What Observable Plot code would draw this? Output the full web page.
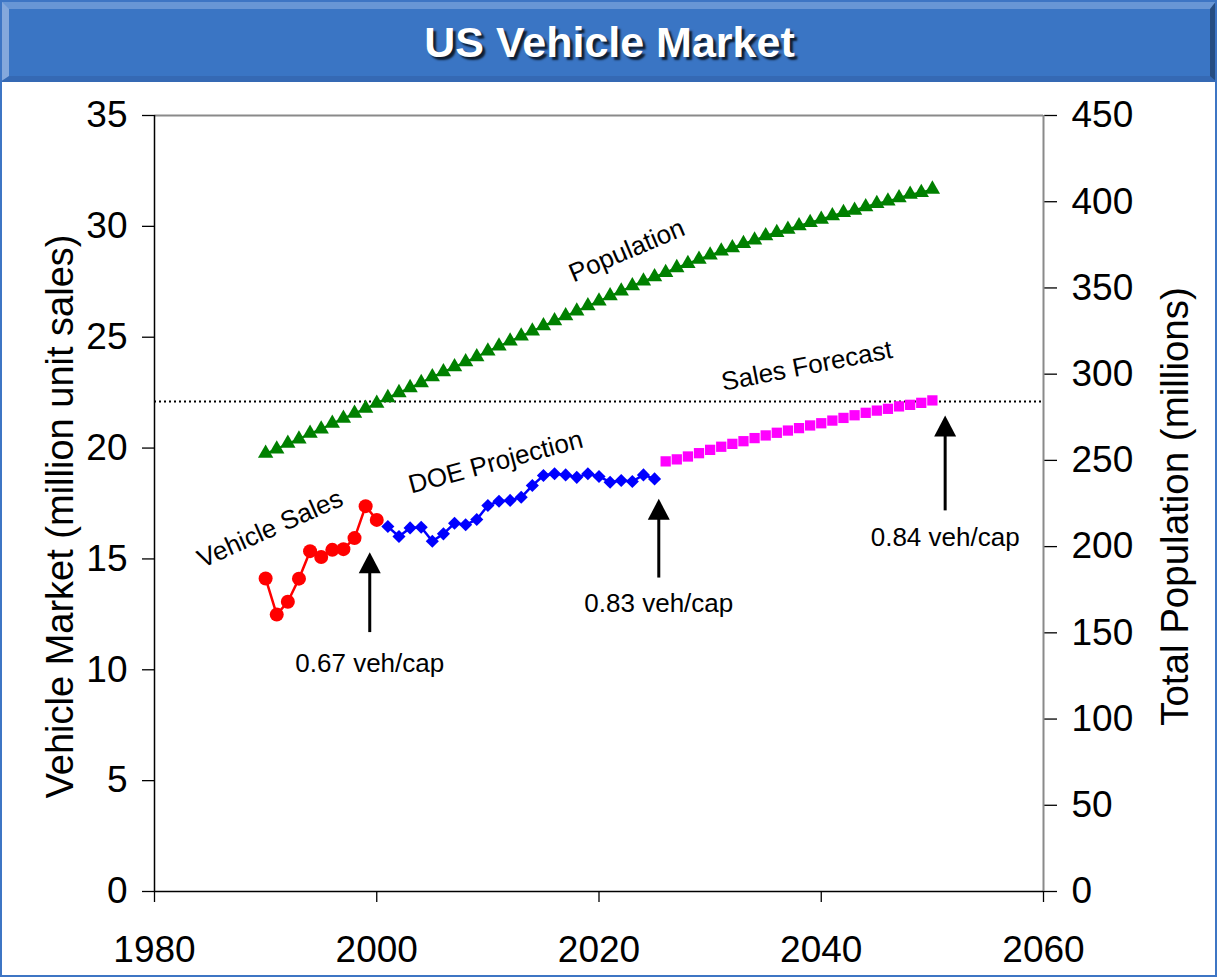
<!DOCTYPE html>
<html>
<head>
<meta charset="utf-8">
<script src="https://cdn.jsdelivr.net/npm/d3@7"></script>
<script src="https://cdn.jsdelivr.net/npm/@observablehq/plot@0.6"></script>
<style>
  html, body { margin: 0; padding: 0; background: #fff; }
  #wrap { position: relative; width: 1217px; height: 977px; background: #fff; overflow: hidden;
          font-family: Arial, "Liberation Sans", sans-serif; }
  #title { position: absolute; left: 0; top: 0; width: 1217px; height: 82px; box-sizing: border-box;
           background: #3a75c4; border-top: 9px solid #6896d5; border-left: 9px solid #84a8dc;
           border-right: 7px solid #264d82; border-bottom: 6px solid #3569b4;
           color: #fff; font-weight: bold; font-size: 43px; line-height: 67px; text-align: center;
           text-shadow: 3px 3px 2px rgba(0,0,0,0.75); }
  #chart { position: absolute; left: 0; top: 82px; }
  #frame { position: absolute; left: 0; top: 0; width: 1217px; height: 977px; box-sizing: border-box;
           border: 2px solid #3d75c4; pointer-events: none; }
</style>
</head>
<body>
<div id="wrap">
  <div id="title">US Vehicle Market</div>
  <div id="chart"></div>
  <div id="frame"></div>
</div>
<script>
// ---- data ----
const salesYears = d3.range(1990, 2001);
const salesValues = [14.12, 12.49, 13.07, 14.11, 15.35, 15.09, 15.41, 15.44, 15.94, 17.38, 16.76];

const doeYears = d3.range(2001, 2026);
const doeValues = [16.46, 16.01, 16.40, 16.43, 15.80, 16.13, 16.61, 16.54, 16.78, 17.41,
                   17.60, 17.64, 17.78, 18.31, 18.76, 18.84, 18.79, 18.68, 18.84, 18.72,
                   18.46, 18.54, 18.49, 18.79, 18.61];

const forecastYears = d3.range(2026, 2051);
const forecastValues = [19.40, 19.49, 19.62, 19.77, 19.92, 20.06, 20.19, 20.31, 20.45, 20.57,
                        20.69, 20.79, 20.90, 21.02, 21.12, 21.24, 21.36, 21.48, 21.59, 21.69,
                        21.77, 21.88, 21.95, 22.04, 22.15];

const popYears = d3.range(1990, 2051);
const popValues = [255.2, 257.7, 261.0, 263.5, 266.8, 269.3, 272.6, 275.5, 278.4, 281.3,
                   284.2, 287.5, 290.4, 293.3, 296.2, 299.6, 302.5, 305.4, 308.3, 311.2,
                   314.5, 317.4, 320.3, 323.2, 326.1, 329.2, 332.1, 335.0, 337.7, 340.8,
                   343.5, 346.6, 349.3, 352.4, 355.1, 357.6, 360.1, 362.9, 365.3, 367.8,
                   370.2, 372.5, 374.4, 376.9, 378.9, 381.4, 383.3, 385.2, 387.2, 389.1,
                   391.0, 393.0, 394.9, 396.2, 398.2, 400.1, 401.5, 403.4, 405.4, 406.5,
                   408.4];

const salesForecastLevel = 22.1;

const xTicks = [1980, 2000, 2020, 2040, 2060];
const yTicks = [0, 5, 10, 15, 20, 25, 30, 35];
const popTicks = [0, 50, 100, 150, 200, 250, 300, 350, 400, 450];

const seriesLabels = ["Population", "Sales Forecast", "DOE Projection", "Vehicle Sales"];
const seriesLabelX = [2022.5, 2038.7, 2010.7, 1990.4];
const seriesLabelY = [28.9, 23.7, 19.36, 16.36];
const seriesLabelAngle = [-23, -11, -15, -24];

const arrowLabels = ["0.67 veh/cap", "0.83 veh/cap", "0.84 veh/cap"];
const arrowX = [1999.37, 2025.38, 2051.15];
const arrowTip = [15.30, 17.71, 21.47];
const arrowTail = [11.70, 14.16, 17.19];
const arrowLabelY = [10.28, 12.99, 15.97];

// ---- derived tables ----
const yMax = 35, popMax = 450;
const toLeft = p => p * yMax / popMax;
const sales = salesYears.map((x, i) => ({x, y: salesValues[i]}));
const doe = doeYears.map((x, i) => ({x, y: doeValues[i]}));
const forecast = forecastYears.map((x, i) => ({x, y: forecastValues[i]}));
const pop = popYears.map((x, i) => ({x, y: toLeft(popValues[i])}));
const labels = seriesLabels.map((text, i) => ({text, x: seriesLabelX[i], y: seriesLabelY[i], a: seriesLabelAngle[i]}));
const arrows = arrowLabels.map((text, i) => ({text, x: arrowX[i], tip: arrowTip[i], tail: arrowTail[i], ly: arrowLabelY[i]}));

const arrowHead = {
  draw(ctx) { ctx.moveTo(0, 0); ctx.lineTo(11, 21); ctx.lineTo(-11, 21); ctx.closePath(); }
};

const font = 'Arial, "Liberation Sans", sans-serif';

const chart = Plot.plot({
  width: 1217,
  height: 895,
  marginLeft: 154,
  marginRight: 174,
  marginTop: 33,
  marginBottom: 86,
  style: {fontFamily: font, fontSize: "37px", color: "#000", background: "transparent", overflow: "visible"},
  x: {domain: [1980, 2060]},
  y: {domain: [0, yMax]},
  marks: [
    Plot.axisX({ticks: xTicks, tickFormat: d => String(d), tickSize: 11, tickPadding: 33, label: null, strokeWidth: 1.3}),
    Plot.axisY({ticks: yTicks, tickSize: 12, tickPadding: 15, label: null, strokeWidth: 1.3}),
    Plot.axisY({anchor: "right", ticks: popTicks.map(toLeft), tickFormat: d => String(Math.round(d * popMax / yMax)),
                tickSize: 13, tickPadding: 15, label: null, strokeWidth: 1.3}),
    Plot.ruleY([yMax], {stroke: "#8a8a8a", strokeWidth: 2}),
    Plot.ruleX([2060], {stroke: "#8a8a8a", strokeWidth: 2}),
    Plot.ruleX([1980], {stroke: "#000", strokeWidth: 1.5}),
    Plot.ruleY([0], {stroke: "#000", strokeWidth: 1.5}),

    Plot.ruleY([salesForecastLevel], {stroke: "#000", strokeWidth: 2, strokeDasharray: "2 3"}),

    // population
    Plot.line(pop, {x: "x", y: "y", stroke: "#008000", strokeWidth: 2, dy: 2}),
    Plot.dot(pop, {x: "x", y: "y", symbol: "triangle", r: 5.7, fill: "#008000", stroke: "none", dy: 2}),

    // vehicle sales
    Plot.line(sales, {x: "x", y: "y", stroke: "#ff0000", strokeWidth: 2.5}),
    Plot.dot(sales, {x: "x", y: "y", r: 7, fill: "#ff0000", stroke: "none"}),

    // DOE projection
    Plot.line(doe, {x: "x", y: "y", stroke: "#0000ff", strokeWidth: 2.5}),
    Plot.dot(doe, {x: "x", y: "y", symbol: "diamond2", r: 5.9, fill: "#0000ff", stroke: "none"}),

    // sales forecast
    Plot.dot(forecast, {x: "x", y: "y", symbol: "square", r: 5.8, fill: "#ff00ff", stroke: "none"}),

    // series labels
    Plot.text(labels, {x: "x", y: "y", text: "text", rotate: "a", fontSize: 26, fill: "#000"}),

    // arrows
    Plot.link(arrows, {x1: "x", x2: "x", y1: "tail", y2: d => d.tip - 0.5, stroke: "#000", strokeWidth: 3}),
    Plot.dot(arrows, {x: "x", y: "tip", symbol: arrowHead, r: 5, fill: "#000", stroke: "none"}),
    Plot.text(arrows, {x: "x", y: "ly", text: "text", fontSize: 26, fill: "#000"}),

    // axis titles
    Plot.text(["Vehicle Market (million unit sales)"], {frameAnchor: "left", textAnchor: "middle", rotate: -90, dx: -94, dy: 13, fontSize: 38, fill: "#000"}),
    Plot.text(["Total Population (millions)"], {frameAnchor: "right", textAnchor: "middle", rotate: -90, dx: 132, dy: 3, fontSize: 38.5, fill: "#000"})
  ]
});
document.getElementById("chart").appendChild(chart);
</script>
</body>
</html>
